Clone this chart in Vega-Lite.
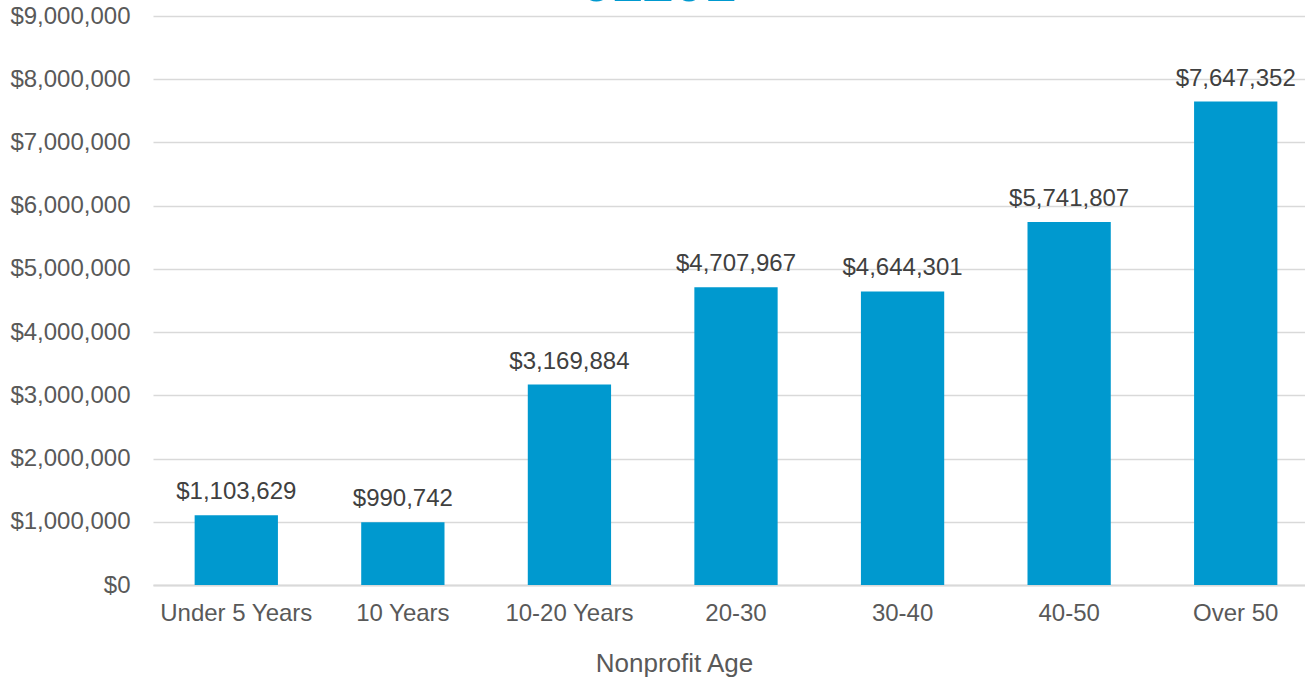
{
  "$schema": "https://vega.github.io/schema/vega-lite/v6.json",
  "width": 1166,
  "height": 569,
  "autosize": {"type": "none"},
  "padding": {"left": 153, "top": 16, "right": 0, "bottom": 94},
  "background": "white",
  "title": {
    "text": "61201",
    "fontSize": 56,
    "fontWeight": "bold",
    "font": "Liberation Sans",
    "color": "#0099CF",
    "anchor": "middle",
    "frame": "group",
    "dx": -78,
    "baseline": "top",
    "offset": -9
  },
  "config": {
    "view": {"stroke": null},
    "font": "Liberation Sans"
  },
  "data": {
    "values": [
      {"age": "Under 5 Years", "value": 1103629},
      {"age": "10 Years", "value": 990742},
      {"age": "10-20 Years", "value": 3169884},
      {"age": "20-30", "value": 4707967},
      {"age": "30-40", "value": 4644301},
      {"age": "40-50", "value": 5741807},
      {"age": "Over 50", "value": 7647352}
    ]
  },
  "encoding": {
    "x": {
      "field": "age",
      "type": "nominal",
      "sort": null,
      "scale": {"paddingInner": 0.5, "paddingOuter": 0.25},
      "axis": {
        "title": "Nonprofit Age",
        "titleFontSize": 26,
        "titleFontWeight": "normal",
        "titleColor": "#595959",
        "titlePadding": 25,
        "titleX": 521,
        "labelFontSize": 24,
        "labelColor": "#595959",
        "labelAngle": 0,
        "labelPadding": 16,
        "labelOverlap": false,
        "ticks": false,
        "domainColor": "#d9d9d9",
        "domainWidth": 2
      }
    },
    "y": {
      "field": "value",
      "type": "quantitative",
      "scale": {"domain": [0, 9000000]},
      "axis": {
        "title": null,
        "values": [0, 1000000, 2000000, 3000000, 4000000, 5000000, 6000000, 7000000, 8000000, 9000000],
        "format": "$,.0f",
        "labelFontSize": 24,
        "labelColor": "#595959",
        "labelPadding": 23,
        "labelOverlap": false,
        "labelBound": false,
        "ticks": false,
        "domain": false,
        "gridColor": "#d9d9d9",
        "gridWidth": 1.5
      }
    }
  },
  "layer": [
    {"mark": {"type": "bar", "color": "#0099CF"}},
    {
      "mark": {"type": "text", "fontSize": 24, "color": "#404040", "baseline": "bottom", "dy": -11},
      "encoding": {"text": {"field": "value", "type": "quantitative", "format": "$,.0f"}}
    }
  ]
}
